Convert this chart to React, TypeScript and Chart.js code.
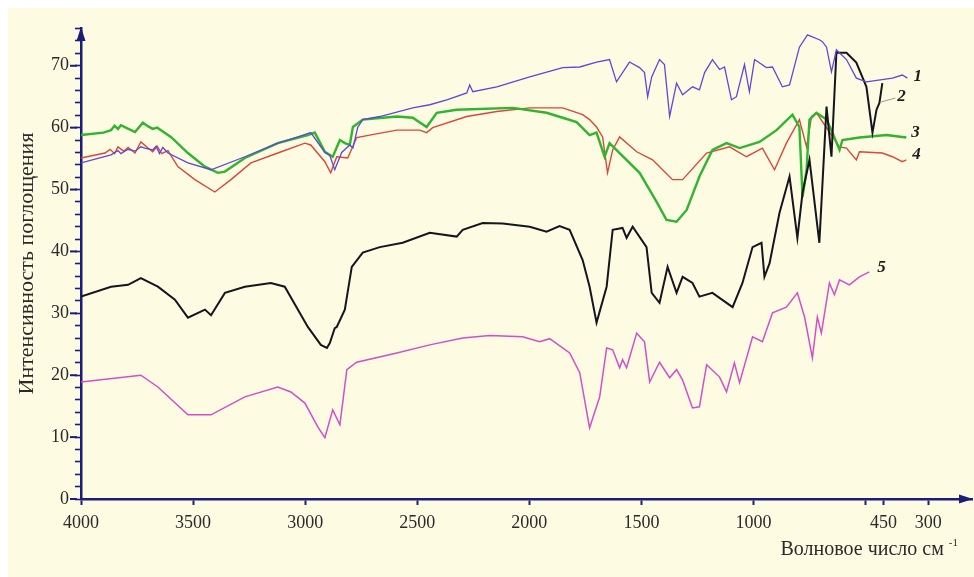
import React, { useEffect, useRef } from "react";
import { Chart, registerables } from "chart.js";

Chart.register(...registerables);

// ---- Data (wavenumber, cm-1  /  absorption intensity) ----
const wavenumbers1 = [4000, 3866, 3835, 3822, 3790, 3759, 3733, 3715, 3680, 3665, 3650, 3635, 3612, 3523, 3420, 3269, 3122, 3033, 2975, 2912, 2890, 2868, 2837, 2801, 2787, 2765, 2743, 2667, 2520, 2444, 2368, 2279, 2266, 2252, 2145, 1998, 1851, 1775, 1700, 1642, 1611, 1553, 1508, 1486, 1472, 1454, 1419, 1397, 1374, 1343, 1316, 1272, 1241, 1218, 1183, 1151, 1129, 1098, 1076, 1040, 1018, 995, 942, 915, 871, 839, 795, 759, 706, 692, 674, 652, 630, 585, 541, 496, 380, 336, 313];
const intensity1 = [54.3, 55.6, 56.3, 55.8, 56.5, 56.2, 56.9, 56.7, 56.4, 57, 55.8, 56.8, 55.9, 54.3, 53.2, 55.3, 57.5, 58.5, 59.2, 56, 55.5, 53.2, 56, 57.2, 56.7, 60.1, 61.3, 61.8, 63.2, 63.7, 64.5, 65.6, 66.9, 65.8, 66.6, 68.2, 69.7, 69.8, 70.6, 71, 67.4, 70.6, 69.7, 68.9, 65, 68.2, 71, 70.2, 61.8, 67.2, 65.3, 66.6, 66.1, 68.9, 71, 69.4, 69.8, 64.5, 65, 70.2, 65.8, 71, 69.7, 69.8, 66.6, 66.9, 73, 75, 74.2, 73.9, 73, 69, 72.6, 71, 68, 67.4, 68, 68.5, 68];

const wavenumbers2 = [4000, 3866, 3790, 3733, 3657, 3581, 3523, 3447, 3420, 3358, 3269, 3153, 3091, 2988, 2930, 2903, 2890, 2868, 2859, 2823, 2792, 2743, 2667, 2565, 2444, 2324, 2297, 2208, 2119, 1998, 1923, 1865, 1820, 1762, 1731, 1700, 1655, 1628, 1584, 1566, 1539, 1477, 1454, 1419, 1383, 1343, 1316, 1272, 1241, 1183, 1093, 1049, 1004, 964, 951, 928, 884, 839, 804, 781, 750, 706, 674, 652, 630, 585, 541, 496, 469, 451, 438, 425];
const intensity2 = [32.7, 34.3, 34.6, 35.7, 34.3, 32.2, 29.3, 30.6, 29.7, 33.3, 34.3, 34.9, 34.3, 27.8, 24.9, 24.4, 25.2, 27.6, 27.8, 30.6, 37.5, 39.8, 40.7, 41.4, 43, 42.4, 43.5, 44.6, 44.5, 44, 43.2, 44.1, 43.5, 38.6, 34.3, 28.5, 34.3, 43.5, 43.8, 42.2, 44, 40.7, 33.3, 31.7, 37.5, 33.3, 35.9, 34.9, 32.7, 33.3, 31, 34.9, 40.7, 41.4, 35.9, 38.1, 46.2, 52.1, 42.2, 49.5, 54.8, 41.4, 63.4, 55.3, 72.1, 72.1, 70.5, 66.6, 59.2, 62.9, 64, 67.2];

const wavenumbers3 = [4000, 3900, 3866, 3850, 3835, 3822, 3800, 3759, 3724, 3700, 3680, 3660, 3640, 3599, 3523, 3447, 3389, 3358, 3269, 3122, 2988, 2957, 2912, 2877, 2845, 2823, 2801, 2787, 2743, 2591, 2520, 2458, 2413, 2324, 2074, 1923, 1851, 1789, 1731, 1700, 1664, 1642, 1597, 1508, 1432, 1388, 1343, 1298, 1241, 1183, 1120, 1062, 973, 897, 826, 795, 781, 763, 750, 719, 674, 648, 616, 603, 527, 407, 318];
const intensity3 = [58.8, 59.2, 59.6, 60.3, 59.8, 60.4, 60, 59.3, 60.8, 60.2, 59.8, 60, 59.5, 58.5, 55.9, 53.7, 52.7, 52.9, 55.1, 57.5, 58.8, 59.2, 56.1, 55.3, 58, 57.5, 57.2, 60.1, 61.3, 61.8, 61.6, 60.1, 62.4, 62.9, 63.2, 62.4, 61.6, 60.9, 58.8, 59.2, 55.3, 57.5, 55.9, 52.7, 48, 45.1, 44.8, 46.7, 52.1, 56.4, 57.5, 56.7, 57.7, 59.6, 62.1, 60.1, 48.8, 53.2, 61.3, 62.4, 61.3, 59.2, 56.4, 58, 58.4, 58.8, 58.4];

const wavenumbers4 = [4000, 3893, 3870, 3850, 3835, 3810, 3790, 3759, 3733, 3701, 3680, 3660, 3640, 3612, 3568, 3492, 3403, 3331, 3242, 3122, 3001, 2975, 2912, 2886, 2859, 2810, 2770, 2712, 2591, 2489, 2458, 2431, 2279, 2145, 1998, 1851, 1762, 1731, 1700, 1673, 1651, 1628, 1597, 1521, 1450, 1361, 1316, 1209, 1107, 1031, 960, 906, 853, 795, 763, 741, 719, 616, 585, 541, 527, 425, 380, 336, 318];
const intensity4 = [55.1, 55.9, 56.5, 55.8, 56.9, 56.2, 56.8, 55.9, 57.7, 56.7, 56.1, 57, 55.8, 56.3, 53.7, 51.6, 49.6, 51.6, 54.3, 55.9, 57.5, 57.2, 54.5, 52.7, 55.3, 55.1, 58.4, 58.8, 59.6, 59.6, 59.2, 60, 61.8, 62.6, 63.2, 63.2, 62.1, 61.3, 60.1, 58.5, 52.7, 56.4, 58.5, 56.1, 54.8, 51.6, 51.6, 55.9, 56.9, 55.3, 56.7, 53.2, 57.5, 61.3, 56.9, 61.8, 62.4, 56.9, 56.7, 54.8, 56.1, 55.9, 55.3, 54.5, 54.8];

const wavenumbers5 = [4000, 3733, 3657, 3523, 3420, 3269, 3122, 3064, 3001, 2943, 2912, 2877, 2845, 2814, 2770, 2591, 2444, 2297, 2177, 2030, 1954, 1909, 1820, 1775, 1731, 1686, 1655, 1628, 1597, 1584, 1566, 1521, 1486, 1463, 1419, 1374, 1343, 1316, 1272, 1241, 1209, 1151, 1120, 1085, 1062, 1004, 960, 915, 853, 804, 772, 737, 715, 697, 661, 639, 616, 572, 527, 483];
const intensity5 = [18.9, 20, 18.1, 13.6, 13.6, 16.5, 18.1, 17.3, 15.5, 11.6, 9.9, 14.4, 12, 20.9, 22.1, 23.6, 24.9, 26, 26.4, 26.2, 25.4, 25.9, 23.6, 20.4, 11.5, 16.5, 24.4, 24.1, 21.2, 22.5, 21.2, 26.8, 25.4, 18.9, 22.1, 19.6, 20.9, 19.2, 14.7, 14.9, 21.7, 19.7, 17.3, 22, 18.8, 26.2, 25.4, 30.1, 31, 33.3, 29.4, 22.8, 29.4, 26.8, 34.9, 33, 35.4, 34.6, 35.9, 36.7];

const seriesNames = ["1", "2", "3", "4", "5"];
const seriesColors = ["#5E48D8", "#15151F", "#2FB52F", "#D9483A", "#D24FC8"];

const xTickValues = [4000, 3500, 3000, 2500, 2000, 1500, 1000, 500, 420, 220];
const xTickLabels = ["4000", "3500", "3000", "2500", "2000", "1500", "1000", "", "450", "300"];
const yTickValues = [0, 2, 4, 6, 8, 10, 12, 14, 16, 18, 20, 22, 24, 26, 28, 30, 32, 34, 36, 38, 40, 42, 44, 46, 48, 50, 52, 54, 56, 58, 60, 62, 64, 66, 68, 70, 72, 74, 76];

const X_MIN = 25;
const X_MAX = 4000;
const Y_MIN = 0;
const Y_MAX = 76.1;

const yTitle = "Интенсивность поглощения";
const xTitle = "Волновое число см";
const xTitleSup = "-1";

const NAVY = "#1C1C7A";
const SERIF = '"Liberation Serif", "Times New Roman", serif';

const series = [
  { x: wavenumbers1, y: intensity1, width: 1.3 },
  { x: wavenumbers2, y: intensity2, width: 2 },
  { x: wavenumbers3, y: intensity3, width: 2.4 },
  { x: wavenumbers4, y: intensity4, width: 1.4 },
  { x: wavenumbers5, y: intensity5, width: 1.5 },
];

const labelOffsets = [
  [6, -2],
  [15, 14],
  [5, -5],
  [6, -5],
  [8, -4],
];

const decorPlugin = {
  id: "decor",
  afterDraw(chart: any) {
    const { ctx, chartArea: ca, scales } = chart;
    const xs = scales.x;
    const ys = scales.y;
    ctx.save();

    // arrow heads
    ctx.fillStyle = NAVY;
    ctx.beginPath();
    ctx.moveTo(ca.left, ca.top - 1);
    ctx.lineTo(ca.left - 4.5, ca.top + 13);
    ctx.lineTo(ca.left + 4.5, ca.top + 13);
    ctx.closePath();
    ctx.fill();
    ctx.beginPath();
    ctx.moveTo(ca.right + 1, ca.bottom);
    ctx.lineTo(ca.right - 13, ca.bottom - 4.5);
    ctx.lineTo(ca.right - 13, ca.bottom + 4.5);
    ctx.closePath();
    ctx.fill();

    // longer major y ticks
    ctx.strokeStyle = NAVY;
    ctx.lineWidth = 2;
    yTickValues
      .filter((v) => v % 10 === 0)
      .forEach((v) => {
        const py = ys.getPixelForValue(v);
        ctx.beginPath();
        ctx.moveTo(ca.left - 11, py);
        ctx.lineTo(ca.left - 4, py);
        ctx.stroke();
      });

    // series numbers
    ctx.fillStyle = "#1E1E1E";
    ctx.font = `bold italic 17px ${SERIF}`;
    ctx.textAlign = "left";
    ctx.textBaseline = "middle";
    series.forEach((s, i) => {
      const n = s.x.length - 1;
      const px = xs.getPixelForValue(s.x[n]);
      const py = ys.getPixelForValue(s.y[n]);
      const lx = px + labelOffsets[i][0];
      const ly = py + labelOffsets[i][1];
      ctx.fillText(seriesNames[i], lx, ly);
      if (i === 1) {
        ctx.strokeStyle = "#9A9A9A";
        ctx.lineWidth = 1;
        ctx.beginPath();
        ctx.moveTo(px - 2, py + 19);
        ctx.lineTo(lx - 2, ly + 1);
        ctx.stroke();
      }
    });

    // x axis title with superscript
    ctx.fillStyle = "#2A2A2A";
    ctx.textBaseline = "alphabetic";
    ctx.font = `11px ${SERIF}`;
    const supW = ctx.measureText(xTitleSup).width;
    const rightEdge = ca.right - 14;
    const baseY = ca.bottom + 56;
    ctx.textAlign = "left";
    ctx.fillText(xTitleSup, rightEdge - supW, baseY - 9);
    ctx.font = `20px ${SERIF}`;
    ctx.textAlign = "right";
    ctx.fillText(xTitle, rightEdge - supW - 5, baseY);

    ctx.restore();
  },
};

export default function App() {
  const canvasRef = useRef<HTMLCanvasElement | null>(null);

  useEffect(() => {
    document.body.style.margin = "0";
    document.body.style.overflow = "hidden";
    const canvas = canvasRef.current;
    if (!canvas) return;

    const datasets = series.map((s, i) => ({
      label: seriesNames[i],
      data: s.x.map((x, j) => ({ x, y: s.y[j] })),
      borderColor: seriesColors[i],
      backgroundColor: seriesColors[i],
      borderWidth: s.width,
      pointRadius: 0,
      tension: 0,
      fill: false,
    }));

    const chart = new Chart(canvas, {
      type: "line",
      data: { datasets },
      options: {
        responsive: false,
        animation: false,
        events: [],
        layout: { padding: { top: 20, right: 2, left: 0, bottom: 0 } },
        plugins: {
          legend: { display: false },
          tooltip: { enabled: false },
        },
        scales: {
          x: {
            type: "linear",
            reverse: true,
            min: X_MIN,
            max: X_MAX,
            afterBuildTicks: (scale: any) => {
              scale.ticks = xTickValues.map((v) => ({ value: v }));
            },
            afterFit: (scale: any) => {
              scale.height = 78;
            },
            ticks: {
              autoSkip: false,
              maxRotation: 0,
              minRotation: 0,
              padding: 7,
              color: "#2A2A2A",
              font: { family: SERIF, size: 18 },
              callback: (_v: any, index: number) => xTickLabels[index],
            },
            grid: {
              drawOnChartArea: false,
              drawTicks: true,
              tickLength: 6,
              tickWidth: 2,
              tickColor: NAVY,
              color: NAVY,
            },
            border: { display: true, color: NAVY, width: 2.5 },
          },
          y: {
            type: "linear",
            min: Y_MIN,
            max: Y_MAX,
            afterBuildTicks: (scale: any) => {
              scale.ticks = yTickValues.map((v) => ({ value: v }));
            },
            afterFit: (scale: any) => {
              scale.width = 73;
            },
            ticks: {
              autoSkip: false,
              padding: 6,
              color: "#2A2A2A",
              font: { family: SERIF, size: 18 },
              callback: (v: any) => (Number(v) % 10 === 0 ? String(v) : ""),
            },
            grid: {
              drawOnChartArea: false,
              drawTicks: true,
              tickLength: 6,
              tickWidth: 1.6,
              tickColor: NAVY,
              color: NAVY,
            },
            border: { display: true, color: NAVY, width: 2.5 },
            title: {
              display: true,
              text: yTitle,
              color: "#2A2A2A",
              font: { family: SERIF, size: 22 },
              padding: { top: 6, bottom: 0 },
            },
          },
        },
      },
      plugins: [decorPlugin],
    });

    return () => {
      chart.destroy();
    };
  }, []);

  return (
    <div style={{ paddingLeft: 8, paddingTop: 8, background: "#FFFFFF", width: 966, height: 569 }}>
      <canvas
        ref={canvasRef}
        width={966}
        height={569}
        style={{ display: "block", width: 966, height: 569, background: "#FDFBE2" }}
      />
    </div>
  );
}
